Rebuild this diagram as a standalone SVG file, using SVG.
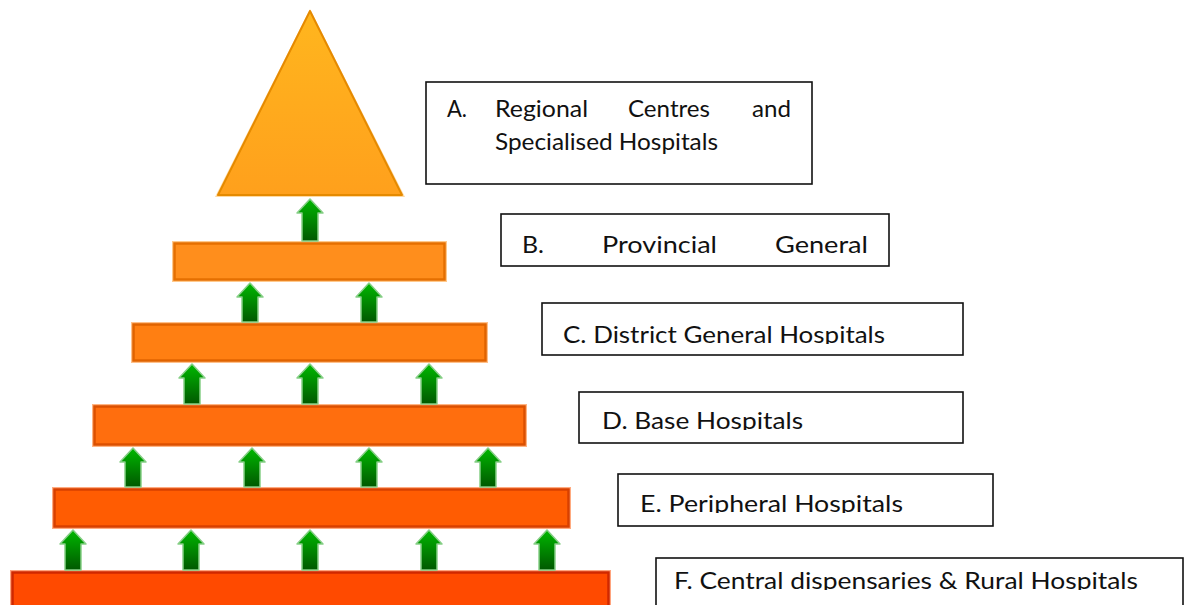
<svg xmlns="http://www.w3.org/2000/svg" width="1185" height="605" viewBox="0 0 1185 605">
<defs>
<style>
.lbl{font-family:Lato,"Open Sans","Liberation Sans",sans-serif;font-size:24px;fill:#111;}
.box{fill:#fff;stroke:#111;stroke-width:1.6;}
.arrow{fill:url(#gArrow);stroke:#86cf86;stroke-width:1.5;stroke-linejoin:round;}
</style>
<linearGradient id="gArrow" x1="0" y1="0" x2="0" y2="1">
<stop offset="0" stop-color="#00b800"/>
<stop offset="1" stop-color="#005800"/>
</linearGradient>
<linearGradient id="gTri" x1="0" y1="0" x2="0" y2="1">
<stop offset="0" stop-color="#ffb61e"/>
<stop offset="1" stop-color="#ffa01c"/>
</linearGradient>
<clipPath id="cC"><rect x="540" y="300" width="430" height="44"/></clipPath>
<clipPath id="cD"><rect x="570" y="390" width="400" height="40"/></clipPath>
<clipPath id="cE"><rect x="610" y="470" width="390" height="43"/></clipPath>
<clipPath id="cF"><rect x="650" y="555" width="535" height="35"/></clipPath>
</defs>
<rect x="0" y="0" width="1185" height="605" fill="#fff"/>

<g id="level-A">
<polygon points="310,9 215,197 405,197" fill="#ffd9a0"/>
<polygon points="310,11 218,195 402,195" fill="url(#gTri)" stroke="#e58a00" stroke-width="2" stroke-linejoin="round"/>
</g>
<g id="level-B">
<rect x="172" y="241" width="275" height="41" fill="#ffc98c"/>
<rect x="174.5" y="243.5" width="270" height="36" fill="#ff8e1c" stroke="#e56f00" stroke-width="2.5"/>
</g>
<g id="level-C">
<rect x="131" y="322" width="357" height="41" fill="#ffc08a"/>
<rect x="133.5" y="324.5" width="352" height="36" fill="#ff7f12" stroke="#e06300" stroke-width="2.5"/>
</g>
<g id="level-D">
<rect x="92" y="404" width="435" height="43" fill="#ffb482"/>
<rect x="94.5" y="406.5" width="430" height="38" fill="#ff6e0e" stroke="#dc5000" stroke-width="2.5"/>
</g>
<g id="level-E">
<rect x="52" y="487" width="519" height="42" fill="#ffab80"/>
<rect x="54.5" y="489.5" width="514" height="37" fill="#ff5c02" stroke="#d84000" stroke-width="2.5"/>
</g>
<g id="level-F">
<rect x="10" y="570" width="601" height="45" fill="#ffa47e"/>
<rect x="12.5" y="572.5" width="596" height="40" fill="#ff4a00" stroke="#d02800" stroke-width="2.5"/>
</g>

<g id="connectors">
<path class="arrow" d="M310,199 L323,213 L318,213 L318,241 L302,241 L302,213 L297,213 Z"/>
<path class="arrow" d="M250,283 L263,297 L258,297 L258,322 L242,322 L242,297 L237,297 Z"/>
<path class="arrow" d="M369,283 L382,297 L377,297 L377,322 L361,322 L361,297 L356,297 Z"/>
<path class="arrow" d="M192,364 L205,378 L200,378 L200,404 L184,404 L184,378 L179,378 Z"/>
<path class="arrow" d="M310,364 L323,378 L318,378 L318,404 L302,404 L302,378 L297,378 Z"/>
<path class="arrow" d="M429,364 L442,378 L437,378 L437,404 L421,404 L421,378 L416,378 Z"/>
<path class="arrow" d="M133,448 L146,462 L141,462 L141,487 L125,487 L125,462 L120,462 Z"/>
<path class="arrow" d="M252,448 L265,462 L260,462 L260,487 L244,487 L244,462 L239,462 Z"/>
<path class="arrow" d="M369,448 L382,462 L377,462 L377,487 L361,487 L361,462 L356,462 Z"/>
<path class="arrow" d="M488,448 L501,462 L496,462 L496,487 L480,487 L480,462 L475,462 Z"/>
<path class="arrow" d="M73,530 L86,544 L81,544 L81,570 L65,570 L65,544 L60,544 Z"/>
<path class="arrow" d="M191,530 L204,544 L199,544 L199,570 L183,570 L183,544 L178,544 Z"/>
<path class="arrow" d="M310,530 L323,544 L318,544 L318,570 L302,570 L302,544 L297,544 Z"/>
<path class="arrow" d="M429,530 L442,544 L437,544 L437,570 L421,570 L421,544 L416,544 Z"/>
<path class="arrow" d="M547,530 L560,544 L555,544 L555,570 L539,570 L539,544 L534,544 Z"/>
</g>

<g id="label-A">
<rect class="box" x="426" y="82" width="386" height="102"/>
<text class="lbl" x="447" y="117" textLength="20" lengthAdjust="spacingAndGlyphs">A.</text>
<text class="lbl" x="495" y="117" textLength="93" lengthAdjust="spacingAndGlyphs">Regional</text>
<text class="lbl" x="628" y="117" textLength="82" lengthAdjust="spacingAndGlyphs">Centres</text>
<text class="lbl" x="752" y="117" textLength="39" lengthAdjust="spacingAndGlyphs">and</text>
<text class="lbl" x="495" y="150" textLength="223" lengthAdjust="spacingAndGlyphs">Specialised Hospitals</text>
</g>
<g id="label-B">
<rect class="box" x="501" y="214" width="388" height="52"/>
<text class="lbl" x="522" y="253" textLength="22" lengthAdjust="spacingAndGlyphs">B.</text>
<text class="lbl" x="602" y="253" textLength="115" lengthAdjust="spacingAndGlyphs">Provincial</text>
<text class="lbl" x="775" y="253" textLength="93" lengthAdjust="spacingAndGlyphs">General</text>
</g>
<g id="label-C">
<rect class="box" x="542" y="303" width="421" height="52"/>
<text class="lbl" x="563" y="343" textLength="322" lengthAdjust="spacingAndGlyphs" clip-path="url(#cC)">C. District General Hospitals</text>
</g>
<g id="label-D">
<rect class="box" x="579" y="392" width="384" height="51"/>
<text class="lbl" x="602" y="429" textLength="201" lengthAdjust="spacingAndGlyphs" clip-path="url(#cD)">D. Base Hospitals</text>
</g>
<g id="label-E">
<rect class="box" x="618" y="474" width="375" height="52"/>
<text class="lbl" x="640" y="512" textLength="263" lengthAdjust="spacingAndGlyphs" clip-path="url(#cE)">E. Peripheral Hospitals</text>
</g>
<g id="label-F">
<rect class="box" x="656" y="558" width="527" height="60"/>
<text class="lbl" x="674" y="589" textLength="464" lengthAdjust="spacingAndGlyphs" clip-path="url(#cF)">F. Central dispensaries &amp; Rural Hospitals</text>
</g>
</svg>
